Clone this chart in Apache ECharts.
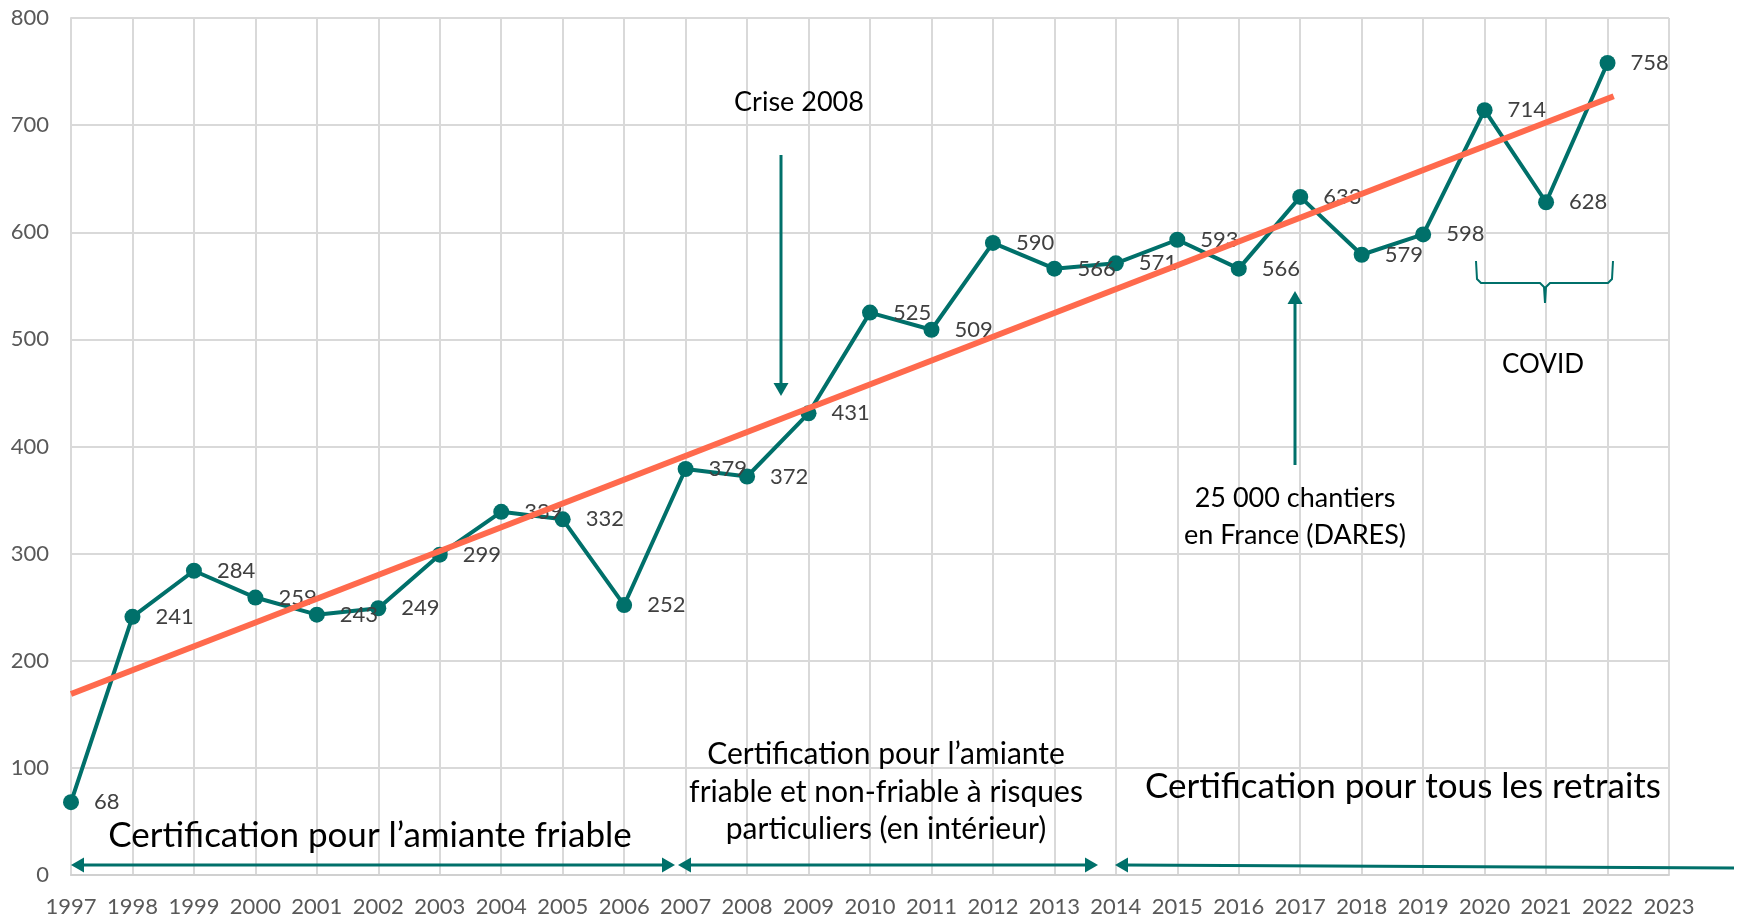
<!DOCTYPE html>
<html>
<head>
<meta charset="utf-8">
<script src="https://cdn.jsdelivr.net/npm/echarts@6/dist/echarts.min.js"></script>
<style>
    html, body { margin: 0; padding: 0; background: #fff; }
    #chart { width: 1743px; height: 918px; }
</style>
</head>
<body>
<div id="chart"></div>
<script>
// 1. données
let years = [1997, 1998, 1999, 2000, 2001, 2002, 2003, 2004, 2005, 2006, 2007, 2008, 2009,
             2010, 2011, 2012, 2013, 2014, 2015, 2016, 2017, 2018, 2019, 2020, 2021, 2022];
let certifs = [68, 241, 284, 259, 243, 249, 299, 339, 332, 252, 379, 372, 431,
               525, 509, 590, 566, 571, 593, 566, 633, 579, 598, 714, 628, 758];
// tendance linéaire (extrémités lues)
let trendYears = [1997, 2022.1];
let trendValues = [169, 727];
// axes
let xMin = 1997, xMax = 2023;
let yMin = 0, yMax = 800, yStep = 100;

let teal = '#00706a';
let font = 'Lato, "Open Sans", sans-serif';

// 2. construire les points
let pts = years.map(function (y, i) { return [y, certifs[i]]; });
let trendPts = trendYears.map(function (y, i) { return [y, trendValues[i]]; });

// 3. flèches et textes d'annotation
function arrowHead(x, y, dir, size) {
    // dir: 'left' | 'right' | 'up' | 'down'
    let s = size, h = size / 2 + 1;
    let p;
    if (dir == 'right') p = [[x, y], [x - s, y - h], [x - s, y + h]];
    if (dir == 'left') p = [[x, y], [x + s, y - h], [x + s, y + h]];
    if (dir == 'down') p = [[x, y], [x - h, y - s], [x + h, y - s]];
    if (dir == 'up') p = [[x, y], [x - h, y + s], [x + h, y + s]];
    return { type: 'polygon', shape: { points: p }, style: { fill: teal }, z: 10 };
}
function seg(x1, y1, x2, y2, w) {
    return { type: 'line', shape: { x1: x1, y1: y1, x2: x2, y2: y2 },
             style: { stroke: teal, lineWidth: w || 3 }, z: 10 };
}
function label(txt, x, y, size, lh) {
    return { type: 'text', x: x, y: y, z: 10,
             style: { text: txt, fill: '#000', font: size + 'px ' + font,
                      textAlign: 'center', textVerticalAlign: 'middle', lineHeight: lh || size * 1.25 } };
}

let graphics = [
    // Crise 2008
    label('Crise 2008', 799, 102, 27),
    seg(781, 155, 781, 385), arrowHead(781, 396, 'down', 13),
    // DARES
    label('25 000 chantiers\nen France (DARES)', 1295, 517, 27, 37),
    seg(1295, 465, 1295, 302), arrowHead(1295, 291, 'up', 13),
    // COVID
    { type: 'polyline', z: 10, shape: { points: [[1476, 261], [1477, 279], [1481, 283], [1540, 283], [1544, 287], [1545, 303]] },
      style: { stroke: teal, lineWidth: 2, fill: null } },
    { type: 'polyline', z: 10, shape: { points: [[1613, 261], [1612, 279], [1608, 283], [1550, 283], [1546, 287], [1545, 303]] },
      style: { stroke: teal, lineWidth: 2, fill: null } },
    label('COVID', 1543, 365, 26),
    // périodes de certification
    label('Certification pour l\u2019amiante friable', 370, 836, 35),
    label('Certification pour l\u2019amiante\nfriable et non-friable à risques\nparticuliers (en intérieur)', 886, 792, 30, 37.5),
    label('Certification pour tous les retraits', 1403, 787, 35),
    seg(80, 865, 665, 865), arrowHead(71, 865, 'left', 13), arrowHead(675, 865, 'right', 13),
    seg(688, 865, 1088, 865), arrowHead(678, 865, 'left', 13), arrowHead(1098, 865, 'right', 13),
    seg(1125, 865, 1734, 868), arrowHead(1115, 865, 'left', 13)
];

// 4. graphique
let myChart = echarts.init(document.getElementById('chart'));
let option = {
    animation: false,
    backgroundColor: '#fff',
    textStyle: { fontFamily: font },
    grid: { left: 71, right: 74, top: 18, bottom: 42, containLabel: false },
    xAxis: {
        type: 'value',
        min: xMin,
        max: xMax,
        interval: 1,
        axisLine: { show: true, lineStyle: { color: '#d0d0d0', width: 2 } },
        axisTick: { show: false },
        splitLine: { show: true, lineStyle: { color: '#d9d9d9', width: 2 } },
        axisLabel: {
            color: '#595959', fontSize: 22, margin: 21, fontFamily: font,
            formatter: function (v) { return String(v); }
        }
    },
    yAxis: {
        type: 'value',
        min: yMin,
        max: yMax,
        interval: yStep,
        axisLine: { show: true, lineStyle: { color: '#d9d9d9', width: 2 } },
        axisTick: { show: false },
        splitLine: { show: true, lineStyle: { color: '#d9d9d9', width: 2 } },
        axisLabel: { color: '#595959', fontSize: 22, margin: 22, fontFamily: font }
    },
    series: [
        {
            name: 'Certifications',
            type: 'line',
            data: pts,
            z: 2,
            symbol: 'circle',
            symbolSize: 16,
            lineStyle: { color: teal, width: 4 },
            itemStyle: { color: teal },
            label: {
                show: true,
                position: 'right',
                distance: 15,
                color: '#404040',
                fontSize: 22,
                fontFamily: font,
                formatter: function (p) { return p.value[1]; }
            }
        },
        {
            name: 'Tendance',
            type: 'line',
            data: trendPts,
            z: 5,
            symbol: 'none',
            lineStyle: { color: '#ff6a4d', width: 6 },
            label: { show: false }
        }
    ],
    graphic: graphics
};
myChart.setOption(option);
</script>
</body>
</html>
